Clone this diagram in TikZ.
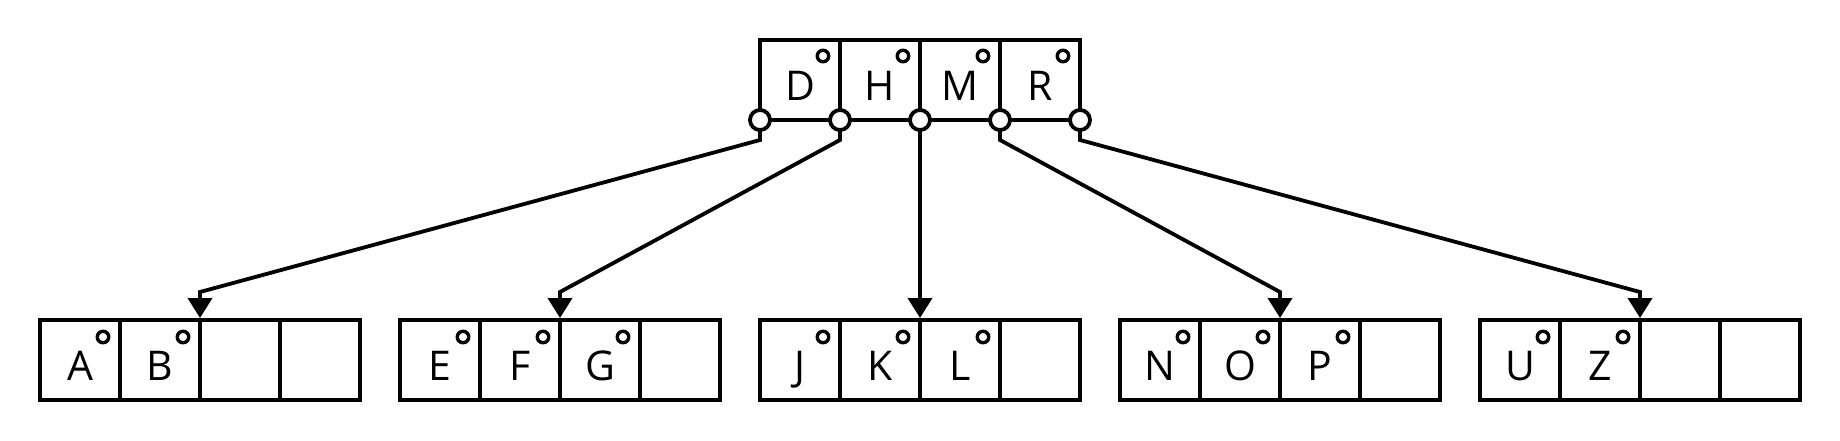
\documentclass[tikz,border=0pt]{standalone}
\usepackage{fontspec}
\setmainfont{Open Sans}
\usetikzlibrary{arrows.meta,calc}
\begin{document}
\begin{tikzpicture}[x=1pt,y=-1pt,
  cell/.style={draw=black,line width=3.8pt,minimum width=80pt,minimum height=80pt,inner sep=0pt,outer sep=0pt,anchor=north west},
  lett/.style={font=\fontsize{41}{49}\selectfont,anchor=base,inner sep=0pt},
  dot/.style={circle,draw=black,fill=white,line width=3.4pt,minimum size=11.5pt,inner sep=0pt},
  port/.style={circle,draw=black,fill=white,line width=3.8pt,minimum size=20pt,inner sep=0pt,outer sep=0pt},
  link/.style={line width=3.8pt,-{Triangle[length=20pt,width=24pt]}}]
\useasboundingbox (0,0) rectangle (1840,440);
% top node
\foreach \l [count=\i from 0] in {D,H,M,R} {
  \node[cell] (t\i) at (760+80*\i,40) {};
  \node[lett] (tl\i) at (800+80*\i,100) {\l};
  \node[dot] (td\i) at (823+80*\i,56) {};
}
\foreach \i in {0,...,4} \node[port] (pc\i) at (760+80*\i,120) {};
% leaves
\foreach \k/\list in {0/{A,B},1/{E,F,G},2/{J,K,L},3/{N,O,P},4/{U,Z}} {
  \foreach \j in {0,...,3} \node[cell] (b\k\j) at (40+360*\k+80*\j,320) {};
  \foreach \l [count=\j from 0] in \list {
    \node[lett] (bl\k\j) at (80+360*\k+80*\j,380) {\l};
    \node[dot] (bd\k\j) at (103+360*\k+80*\j,337) {};
  }
}
% connectors
\foreach \i in {0,...,4}
  \draw[link] (pc\i.south) -- ($(pc\i.center)+(0,20)$) -- ($(b\i2.north west)+(0,-28)$) -- ($(b\i2.north west)+(0,-2)$);
\end{tikzpicture}
\end{document}
